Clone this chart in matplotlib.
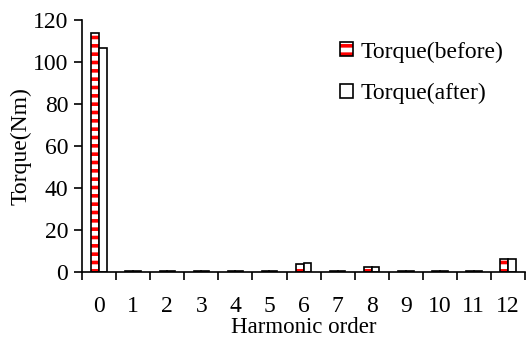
import matplotlib
matplotlib.use('Agg')
import matplotlib.pyplot as plt
import numpy as np
from matplotlib.patches import Patch

orders = list(range(13))
torque_before = [114, 0.6, 0.6, 0.6, 0.6, 0.6, 4.0, 0.6, 2.4, 0.6, 0.6, 0.6, 6.0]
torque_after = [107, 0.6, 0.6, 0.6, 0.6, 0.6, 4.3, 0.6, 2.4, 0.6, 0.6, 0.6, 6.0]

plt.rcParams['font.family'] = ['Liberation Serif', 'DejaVu Serif']
plt.rcParams['font.size'] = 17
plt.rcParams['hatch.linewidth'] = 2.6

fig, ax = plt.subplots(figsize=(5.27, 3.38), dpi=100)
fig.subplots_adjust(left=0.156, right=0.996, top=0.94, bottom=0.195)

x = np.arange(len(orders))
w = 0.23
# striped "before" bars: red hatch on white, black outline on top
ax.bar(x - w / 2, torque_before, w, facecolor='white', edgecolor='red',
       hatch='--', linewidth=0)
ax.bar(x - w / 2, torque_before, w, facecolor='none', edgecolor='black',
       linewidth=1.2)
ax.bar(x + w / 2, torque_after, w, facecolor='white', edgecolor='black',
       linewidth=1.2)

# legend proxies
h1 = Patch(facecolor='white', edgecolor='red', hatch='--', linewidth=0)
h1b = Patch(facecolor='none', edgecolor='black', linewidth=1.2)
h2 = Patch(facecolor='white', edgecolor='black', linewidth=1.2)
ax.legend([(h1, h1b), h2], ['Torque(before)', 'Torque(after)'],
          loc='upper right', bbox_to_anchor=(1.0, 1.0), frameon=False,
          handlelength=0.55, handleheight=0.55, handletextpad=0.35,
          labelspacing=0.85, fontsize=17)

ax.set_xlim(-0.5, 12.5)
ax.set_ylim(0, 120)
ax.set_yticks(range(0, 121, 20))
ax.set_xticks(x)
ax.set_xticklabels([str(o) for o in orders])
ax.set_xticks(np.arange(-0.5, 13, 1), minor=True)
ax.tick_params(axis='x', which='major', length=0, pad=17)
ax.tick_params(axis='x', which='minor', length=6, width=1.2, direction='out')
ax.tick_params(axis='y', length=6, width=1.2, direction='out', pad=4)
ax.spines['top'].set_visible(False)
ax.spines['right'].set_visible(False)
ax.spines['left'].set_linewidth(1.2)
ax.spines['bottom'].set_linewidth(1.2)

ax.set_ylabel('Torque(Nm)', labelpad=1)
ax.set_xlabel('Harmonic order', labelpad=0, fontsize=16.5)

plt.savefig('out.png', dpi=100)
plt.close()
